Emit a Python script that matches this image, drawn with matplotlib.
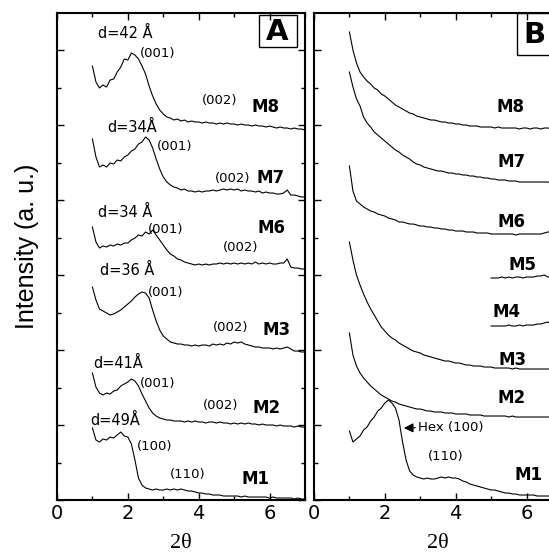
import matplotlib
matplotlib.use("Agg")
import matplotlib.pyplot as plt
import numpy as np
from matplotlib.patches import Rectangle
from matplotlib.ticker import MultipleLocator

# 2-theta sampling (degrees) used for all traces
two_theta = np.round(np.linspace(1.0, 7.0, 61), 2)
two_theta_short = np.round(np.linspace(5.0, 7.0, 21), 2)

# Panel A: intensity (a.u., stacked offsets as drawn)
a_m8 = [434, 418, 412, 415, 413, 420, 421, 428, 433, 441, 440, 447, 445, 441, 434, 426, 414, 404, 396, 390,
        386, 383, 382, 380, 381, 379, 380, 378, 379, 378, 378, 377, 378, 377, 377, 376, 377, 376, 377, 376,
        376, 375, 376, 375, 375, 374, 375, 374, 374, 373, 374, 373, 372, 373, 372, 372, 371, 372, 371, 371, 370]
a_m7 = [361, 343, 333, 335, 333, 337, 336, 340, 339, 343, 345, 349, 351, 356, 358, 363, 360, 352, 341, 331,
        323, 318, 315, 313, 312, 310, 311, 309, 309, 308, 309, 308, 309, 309, 310, 309, 310, 311, 310, 311,
        310, 311, 309, 310, 309, 309, 308, 309, 307, 308, 307, 307, 306, 306, 307, 310, 305, 305, 304, 303, 303]
a_m6 = [273, 258, 252, 254, 253, 255, 254, 256, 255, 257, 257, 260, 262, 265, 264, 268, 266, 270, 265, 260,
        255, 250, 246, 244, 241, 240, 238, 237, 236, 235, 236, 235, 236, 235, 236, 236, 237, 236, 237, 236,
        237, 236, 237, 236, 237, 236, 238, 236, 237, 236, 237, 236, 236, 237, 237, 241, 233, 232, 232, 231, 231]
a_m3 = [213, 200, 191, 189, 187, 185, 186, 188, 190, 193, 196, 199, 203, 206, 208, 207, 202, 190, 179, 170,
        164, 161, 158, 157, 156, 156, 155, 155, 154, 155, 154, 155, 155, 154, 156, 155, 156, 155, 157, 156,
        158, 157, 158, 156, 155, 154, 153, 153, 152, 152, 152, 151, 152, 151, 152, 153, 151, 149, 149, 148, 148]
a_m2 = [127, 113, 107, 105, 107, 106, 109, 110, 114, 116, 118, 121, 119, 114, 106, 99, 92, 87, 84, 82,
        81, 80, 80, 79, 79, 79, 78, 79, 78, 79, 78, 78, 77, 78, 78, 77, 78, 77, 77, 76,
        77, 76, 77, 76, 77, 76, 76, 75, 76, 75, 75, 75, 74, 75, 74, 74, 74, 73, 74, 73, 73]
a_m1 = [72, 60, 58, 61, 60, 63, 62, 65, 68, 64, 63, 56, 40, 22, 15, 12, 11, 10, 11, 10,
        10, 11, 10, 11, 10, 11, 10, 9, 9, 8, 7, 7, 6, 6, 5, 5, 5, 4, 4, 4,
        4, 4, 3, 4, 3, 3, 3, 3, 3, 3, 2, 3, 2, 2, 2, 2, 2, 1, 2, 1, 1]

# Panel B
b_m8 = [468, 450, 437, 428, 423, 419, 416, 412, 410, 406, 404, 401, 398, 395, 393, 391, 389, 387, 386, 384,
        383, 382, 381, 380, 380, 379, 378, 378, 377, 377, 376, 376, 375, 375, 374, 374, 374, 373, 373, 373,
        373, 372, 373, 372, 372, 372, 372, 372, 371, 372, 372, 371, 372, 372, 371, 372, 372, 371, 372, 372, 371]
b_m7 = [428, 413, 401, 394, 383, 377, 373, 368, 365, 362, 359, 356, 353, 350, 348, 345, 343, 341, 338, 336,
        335, 333, 332, 331, 330, 329, 329, 328, 327, 327, 326, 326, 325, 325, 324, 324, 323, 323, 322, 322,
        321, 321, 320, 320, 320, 319, 319, 319, 318, 318, 318, 318, 318, 318, 318, 318, 318, 317, 317, 317, 317]
b_m6 = [334, 309, 299, 296, 293, 291, 289, 288, 286, 285, 284, 282, 281, 280, 278, 278, 277, 276, 276, 275,
        274, 274, 273, 273, 272, 272, 271, 271, 270, 270, 269, 269, 269, 268, 268, 268, 267, 267, 267, 267,
        266, 266, 266, 266, 266, 266, 266, 265, 266, 266, 266, 266, 266, 266, 266, 267, 268, 268, 268, 268, 268]
b_m5 = [222, 222, 222, 223, 222, 223, 222, 223, 223, 222, 223, 223, 223, 224, 224, 225, 223, 223, 222, 222, 222]
b_m4 = [174, 174, 174, 174, 174, 175, 174, 174, 175, 174, 175, 175, 175, 176, 176, 177, 178, 176, 175, 175, 175]
b_m3 = [258, 240, 225, 215, 206, 198, 191, 185, 179, 173, 169, 165, 162, 160, 157, 155, 153, 151, 149, 148,
        147, 145, 144, 143, 142, 141, 140, 139, 139, 138, 137, 137, 136, 135, 135, 134, 134, 134, 133, 133,
        133, 132, 132, 132, 132, 132, 131, 132, 131, 131, 131, 131, 131, 131, 131, 131, 131, 131, 130, 131, 130]
b_m2 = [167, 145, 134, 127, 122, 118, 114, 111, 108, 105, 103, 101, 99, 98, 96, 95, 94, 93, 92, 91,
        91, 90, 89, 89, 88, 88, 88, 87, 87, 87, 86, 86, 86, 86, 85, 85, 85, 85, 84, 84,
        84, 84, 84, 84, 84, 83, 84, 83, 83, 83, 83, 83, 83, 83, 83, 83, 83, 83, 82, 83, 82]
b_m1 = [69, 58, 61, 64, 70, 73, 79, 83, 89, 92, 97, 100, 97, 92, 80, 58, 40, 29, 25, 23,
        22, 21, 22, 21, 21, 22, 23, 22, 23, 22, 22, 21, 19, 18, 16, 15, 14, 13, 12, 11,
        10, 10, 9, 8, 7, 7, 6, 6, 5, 5, 5, 5, 5, 4, 4, 4, 4, 4, 4, 3, 3]

# annotations: (text, x, y, kind)
labels_a = [
    ("d=42 Å", 1.16, 467, "d"), ("(001)", 2.34, 447, "hkl"), ("(002)", 4.09, 400, "hkl"), ("M8", 5.50, 393, "m"),
    ("d=34Å", 1.41, 373, "d"), ("(001)", 2.82, 354, "hkl"), ("(002)", 4.46, 322, "hkl"), ("M7", 5.64, 322, "m"),
    ("d=34 Å", 1.16, 288, "d"), ("(001)", 2.57, 271, "hkl"), ("M6", 5.67, 272, "m"), ("(002)", 4.69, 253, "hkl"),
    ("d=36 Å", 1.21, 230, "d"), ("(001)", 2.57, 208, "hkl"), ("(002)", 4.40, 173, "hkl"), ("M3", 5.81, 170, "m"),
    ("d=41Å", 1.02, 137, "d"), ("(001)", 2.34, 117, "hkl"), ("(002)", 4.12, 95, "hkl"), ("M2", 5.53, 92, "m"),
    ("d=49Å", 0.93, 80, "d"), ("(100)", 2.26, 54, "hkl"), ("(110)", 3.19, 26, "hkl"), ("M1", 5.22, 21, "m"),
]
labels_b = [
    ("M8", 5.14, 393, "m"), ("M7", 5.17, 338, "m"), ("M6", 5.17, 278, "m"), ("M5", 5.48, 235, "m"),
    ("M4", 5.05, 188, "m"), ("M3", 5.22, 140, "m"), ("M2", 5.17, 102, "m"),
    ("(110)", 3.22, 44, "hkl"), ("M1", 5.67, 25, "m"),
]
styles = {"d": dict(fontsize=10.5), "hkl": dict(fontsize=9.5), "m": dict(fontsize=12, fontweight="bold")}

fig = plt.figure(figsize=(5.49, 5.56), dpi=100)
axA = fig.add_axes([0.1038, 0.1007, 0.4517, 0.8759])
axB = fig.add_axes([0.5719, 0.1007, 0.4517, 0.8759])

for ax in (axA, axB):
    ax.set_xlim(0, 7)
    ax.set_ylim(0, 487)
    ax.xaxis.set_major_locator(MultipleLocator(2))
    ax.xaxis.set_minor_locator(MultipleLocator(1))
    ax.yaxis.set_major_locator(MultipleLocator(75))
    ax.yaxis.set_minor_locator(MultipleLocator(37.5))
    ax.tick_params(which="both", direction="in", top=True, right=True, width=1)
    ax.tick_params(which="major", length=5, labelsize=14, pad=3)
    ax.tick_params(which="minor", length=3)
    ax.tick_params(axis="y", labelleft=False)
    for s in ax.spines.values():
        s.set_linewidth(1.5)
    ax.set_xlabel("2θ", family="Liberation Serif", fontsize=16, labelpad=8)

for y in (a_m8, a_m7, a_m6, a_m3, a_m2, a_m1):
    axA.plot(two_theta, y, color="black", lw=0.8)
for y in (b_m8, b_m7, b_m6, b_m3, b_m2, b_m1):
    axB.plot(two_theta, y, color="black", lw=0.8)
for y in (b_m5, b_m4):
    axB.plot(two_theta_short, y, color="black", lw=0.8)

for ax, labs in ((axA, labels_a), (axB, labels_b)):
    for txt, x, y, kind in labs:
        ax.text(x, y, txt, ha="left", va="center", **styles[kind])

axB.annotate("Hex (100)", xy=(2.54, 72), xytext=(2.94, 73), fontsize=9.5, va="center",
             arrowprops=dict(arrowstyle="-|>", color="black", lw=0.8, mutation_scale=14,
                             shrinkA=0, shrinkB=0))

# panel letters in boxes
axA.add_patch(Rectangle((0.815, 0.930), 0.153, 0.066, transform=axA.transAxes,
                        fill=False, lw=1.0, clip_on=False))
axA.text(0.889, 0.960, "A", transform=axA.transAxes, ha="center", va="center",
         fontsize=21, fontweight="bold")
axB.add_patch(Rectangle((0.819, 0.914), 0.16, 0.086, transform=axB.transAxes,
                        fill=False, lw=1.0, clip_on=False))
axB.text(0.891, 0.955, "B", transform=axB.transAxes, ha="center", va="center",
         fontsize=21, fontweight="bold")

fig.text(0.0486, 0.5576, "Intensity (a. u.)", rotation=90, ha="center", va="center",
         family="Liberation Sans", fontsize=18)

plt.savefig("out.png", dpi=100)
plt.close()
